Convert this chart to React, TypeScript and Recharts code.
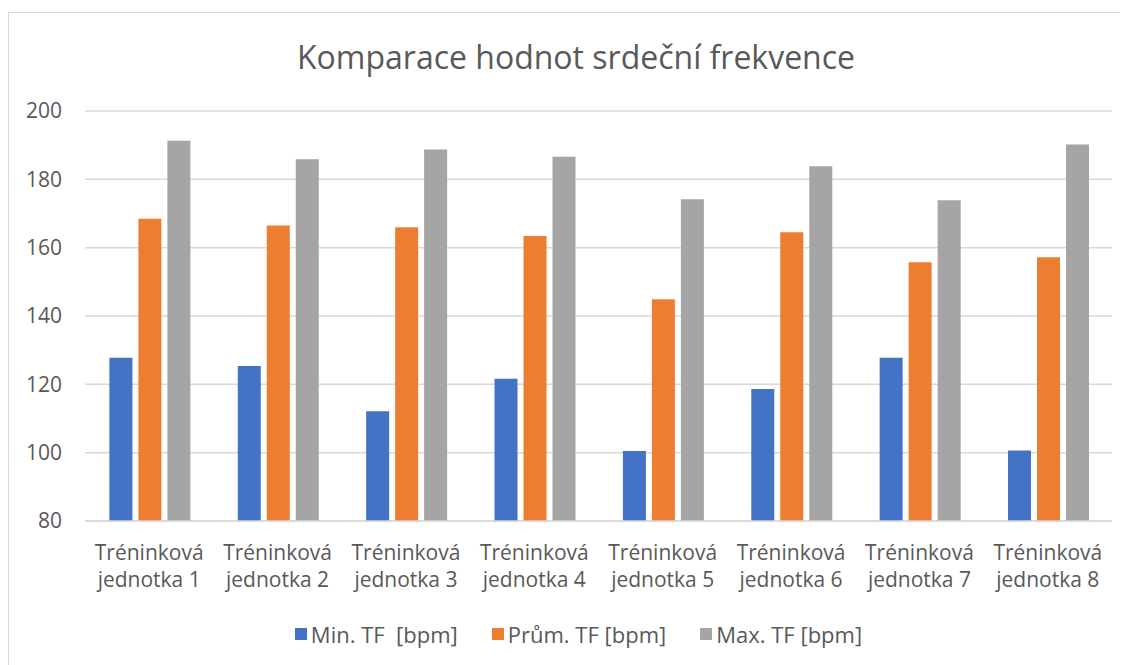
import React from 'react';
import { BarChart, Bar, XAxis, YAxis, CartesianGrid, Legend } from 'recharts';

const categories = [
    'Tréninková jednotka 1',
    'Tréninková jednotka 2',
    'Tréninková jednotka 3',
    'Tréninková jednotka 4',
    'Tréninková jednotka 5',
    'Tréninková jednotka 6',
    'Tréninková jednotka 7',
    'Tréninková jednotka 8',
];

const minTF = [127.8, 125.4, 112.1, 121.6, 100.5, 118.6, 127.8, 100.6];
const avgTF = [168.5, 166.5, 166.0, 163.4, 144.9, 164.5, 155.7, 157.2];
const maxTF = [191.3, 185.9, 188.7, 186.6, 174.2, 183.8, 173.9, 190.2];

const yTicks = [80, 100, 120, 140, 160, 180, 200];

const SERIES = [
    { key: 'min', name: 'Min. TF  [bpm]', color: '#4472C4' },
    { key: 'avg', name: 'Prům. TF [bpm]', color: '#ED7D31' },
    { key: 'max', name: 'Max. TF [bpm]', color: '#A5A5A5' },
];

const FONT = '"Open Sans", sans-serif';
const TEXT = '#595959';

const data = categories.map((name, i) => ({
    name,
    min: minTF[i],
    avg: avgTF[i],
    max: maxTF[i],
}));

// two-line category label: first word, then the rest
const CategoryTick = (props: any) => {
    const { x, y, payload } = props;
    const words = String(payload.value).split(' ');
    const first = words[0];
    const rest = words.slice(1).join(' ');
    return (
        <text x={x} y={y} textAnchor="middle" fill={TEXT} fontSize={21} fontFamily={FONT}>
            <tspan x={x} dy={39}>{first}</tspan>
            <tspan x={x} dy={27}>{rest}</tspan>
        </text>
    );
};

const renderLegend = () => (
    <div style={{ display: 'flex', justifyContent: 'center', alignItems: 'center', height: 30, paddingLeft: 36, fontFamily: FONT, fontSize: 22, color: TEXT }}>
        {SERIES.map((s, i) => (
            <div key={s.key} style={{ display: 'flex', alignItems: 'center', marginLeft: i === 0 ? 0 : 34 }}>
                <span style={{ display: 'inline-block', width: 12, height: 12, background: s.color, marginRight: 4 }} />
                <span style={{ whiteSpace: 'pre' }}>{s.name}</span>
            </div>
        ))}
    </div>
);

export default function App() {
    return (
        <div style={{ position: 'relative', marginTop: 4, width: 1119, height: 652, borderLeft: '1px solid #D9D9D9', borderTop: '1px solid #D9D9D9', background: '#fff' }}>
            <div style={{ position: 'absolute', top: 22, left: 567, transform: 'translateX(-50%)', whiteSpace: 'nowrap', fontFamily: FONT, fontSize: 32, color: TEXT }}>
                Komparace hodnot srdeční frekvence
            </div>
            <BarChart
                width={1119}
                height={652}
                data={data}
                margin={{ top: 98, right: 16, left: 0, bottom: 16 }}
                barCategoryGap="19%"
                barGap={6}
            >
                <CartesianGrid vertical={false} stroke="#D9D9D9" strokeWidth={1.5} />
                <XAxis
                    dataKey="name"
                    height={98}
                    interval={0}
                    tickLine={false}
                    tickSize={0}
                    tickMargin={0}
                    axisLine={{ stroke: '#D9D9D9', strokeWidth: 1.5 }}
                    tick={<CategoryTick />}
                />
                <YAxis
                    width={76}
                    domain={[80, 200]}
                    ticks={yTicks}
                    allowDataOverflow
                    axisLine={false}
                    tickLine={false}
                    tickSize={0}
                    tickMargin={23}
                    tick={{ fill: TEXT, fontSize: 21, fontFamily: FONT }}
                />
                <Legend verticalAlign="bottom" height={30} content={renderLegend} />
                {SERIES.map(s => (
                    <Bar key={s.key} dataKey={s.key} name={s.name} fill={s.color} isAnimationActive={false} />
                ))}
            </BarChart>
        </div>
    );
}
